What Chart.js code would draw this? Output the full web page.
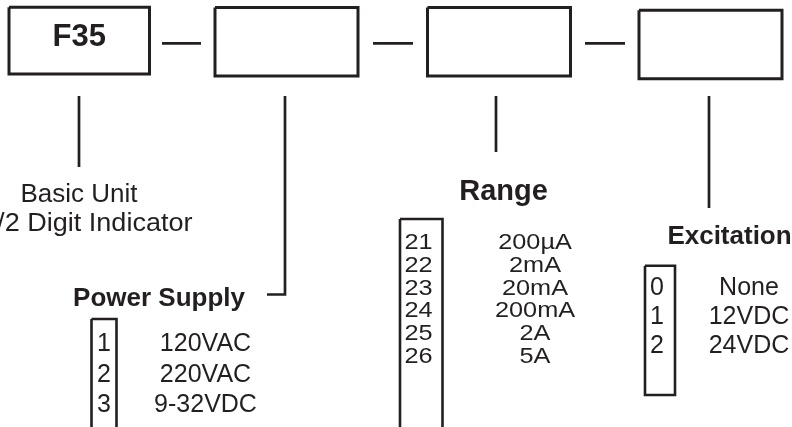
<!DOCTYPE html>
<html>
<head>
<meta charset="utf-8">
<script src="https://cdn.jsdelivr.net/npm/chart.js@4.4.1/dist/chart.umd.min.js"></script>
<style>
  html, body { margin: 0; padding: 0; background: #fff; }
  #wrap { width: 792px; height: 427px; }
</style>
</head>
<body>
<div id="wrap"><canvas id="myChart" width="792" height="427"></canvas></div>
<script>
// Contenido del código de pedido
const fields = ['F35', '', '', ''];
const basicUnit = ['Basic Unit', '3 1/2 Digit Indicator'];
const headings = ['Power Supply', 'Range', 'Excitation'];
const powerCodes = ['1', '2', '3'];
const powerLabels = ['120VAC', '220VAC', '9-32VDC'];
const rangeCodes = ['21', '22', '23', '24', '25', '26'];
const rangeLabels = ['200\u00b5A', '2mA', '20mA', '200mA', '2A', '5A'];
const excitationCodes = ['0', '1', '2'];
const excitationLabels = ['None', '12VDC', '24VDC'];

const ink = '#231f20';

// Maquetación (unidades de la escala = píxeles del dibujo)
const fieldBoxes = [[9, 7.3, 149.5, 74], [215, 7.5, 358, 76], [427.5, 7.5, 570.5, 76], [639, 10.3, 782, 78.7]];
const dashes = [[162, 201], [373, 413], [585, 625]];
const dashY = 43.3;
const leads = [
  [[79, 96], [79, 167]],
  [[285, 96], [285, 294.5], [267, 294.5]],
  [[496, 96], [496, 152]],
  [[709, 96], [709, 208]]
];
const codeBoxes = [[91.5, 319, 116.5, 440], [400, 219, 442.5, 440], [645, 265.7, 675, 395]];

function rect(b) {
  return [{x: b[0], y: b[1]}, {x: b[2], y: b[1]}, {x: b[2], y: b[3]}, {x: b[0], y: b[3]}, {x: b[0], y: b[1]}];
}

function stroke(points, width) {
  return {
    data: points,
    showLine: true,
    borderColor: ink,
    borderWidth: width,
    pointRadius: 0,
    tension: 0,
    fill: false,
    borderJoinStyle: 'miter',
    borderCapStyle: 'butt'
  };
}

const datasets = [];
fieldBoxes.forEach(b => datasets.push(stroke(rect(b), 3)));
dashes.forEach(d => datasets.push(stroke([{x: d[0], y: dashY}, {x: d[1], y: dashY}], 2.7)));
leads.forEach(l => datasets.push(stroke(l.map(p => ({x: p[0], y: p[1]})), 2.7)));
codeBoxes.forEach(b => datasets.push(stroke(rect(b), 2.6)));

// Textos dibujados sobre las escalas
const textPlugin = {
  id: 'codeText',
  afterDatasetsDraw(chart) {
    const {ctx, scales: {x, y}} = chart;
    const put = (txt, px, py, size, bold, sx, align) => {
      ctx.save();
      ctx.font = (bold ? 'bold ' : '') + size + 'px "Liberation Sans", Arial, sans-serif';
      ctx.fillStyle = ink;
      ctx.textAlign = align || 'center';
      ctx.textBaseline = 'alphabetic';
      ctx.translate(x.getPixelForValue(px), y.getPixelForValue(py));
      ctx.scale(sx || 1, 1);
      ctx.fillText(txt, 0, 0);
      ctx.restore();
    };

    fields.forEach((f, i) => {
      if (!f) return;
      const b = fieldBoxes[i];
      put(f, (b[0] + b[2]) / 2, 45.5, 31, true);
    });

    put(basicUnit[0], 79, 202, 26, false);
    put(basicUnit[1], 192.5, 231, 26, false, 1.04, 'right');

    put(headings[0], 159, 306, 26, true);
    put(headings[1], 503.5, 200, 29, true);
    put(headings[2], 729.5, 244, 26, true);

    powerCodes.forEach((c, i) => {
      put(c, 104, 351 + i * 30.5, 25, false);
      put(powerLabels[i], 205.5, 351 + i * 30.5, 25, false);
    });

    rangeCodes.forEach((c, i) => {
      put(c, 418.5, 249 + i * 22.8, 22, false, 1.15);
      put(rangeLabels[i], 535, 249 + i * 22.8, 22, false, 1.15);
    });

    excitationCodes.forEach((c, i) => {
      put(c, 657, 295 + i * 29, 25, false);
      put(excitationLabels[i], 749, 295 + i * 29, 25, false);
    });
  }
};

const ctx = document.getElementById('myChart').getContext('2d');
const myChart = new Chart(ctx, {
  type: 'scatter',
  data: { datasets: datasets },
  options: {
    responsive: false,
    animation: false,
    events: [],
    layout: { padding: 0, autoPadding: false },
    plugins: { legend: { display: false }, tooltip: { enabled: false } },
    scales: {
      x: { type: 'linear', min: 0, max: 792, display: false },
      y: { type: 'linear', min: 0, max: 427, reverse: true, display: false }
    }
  },
  plugins: [textPlugin]
});
</script>
</body>
</html>
